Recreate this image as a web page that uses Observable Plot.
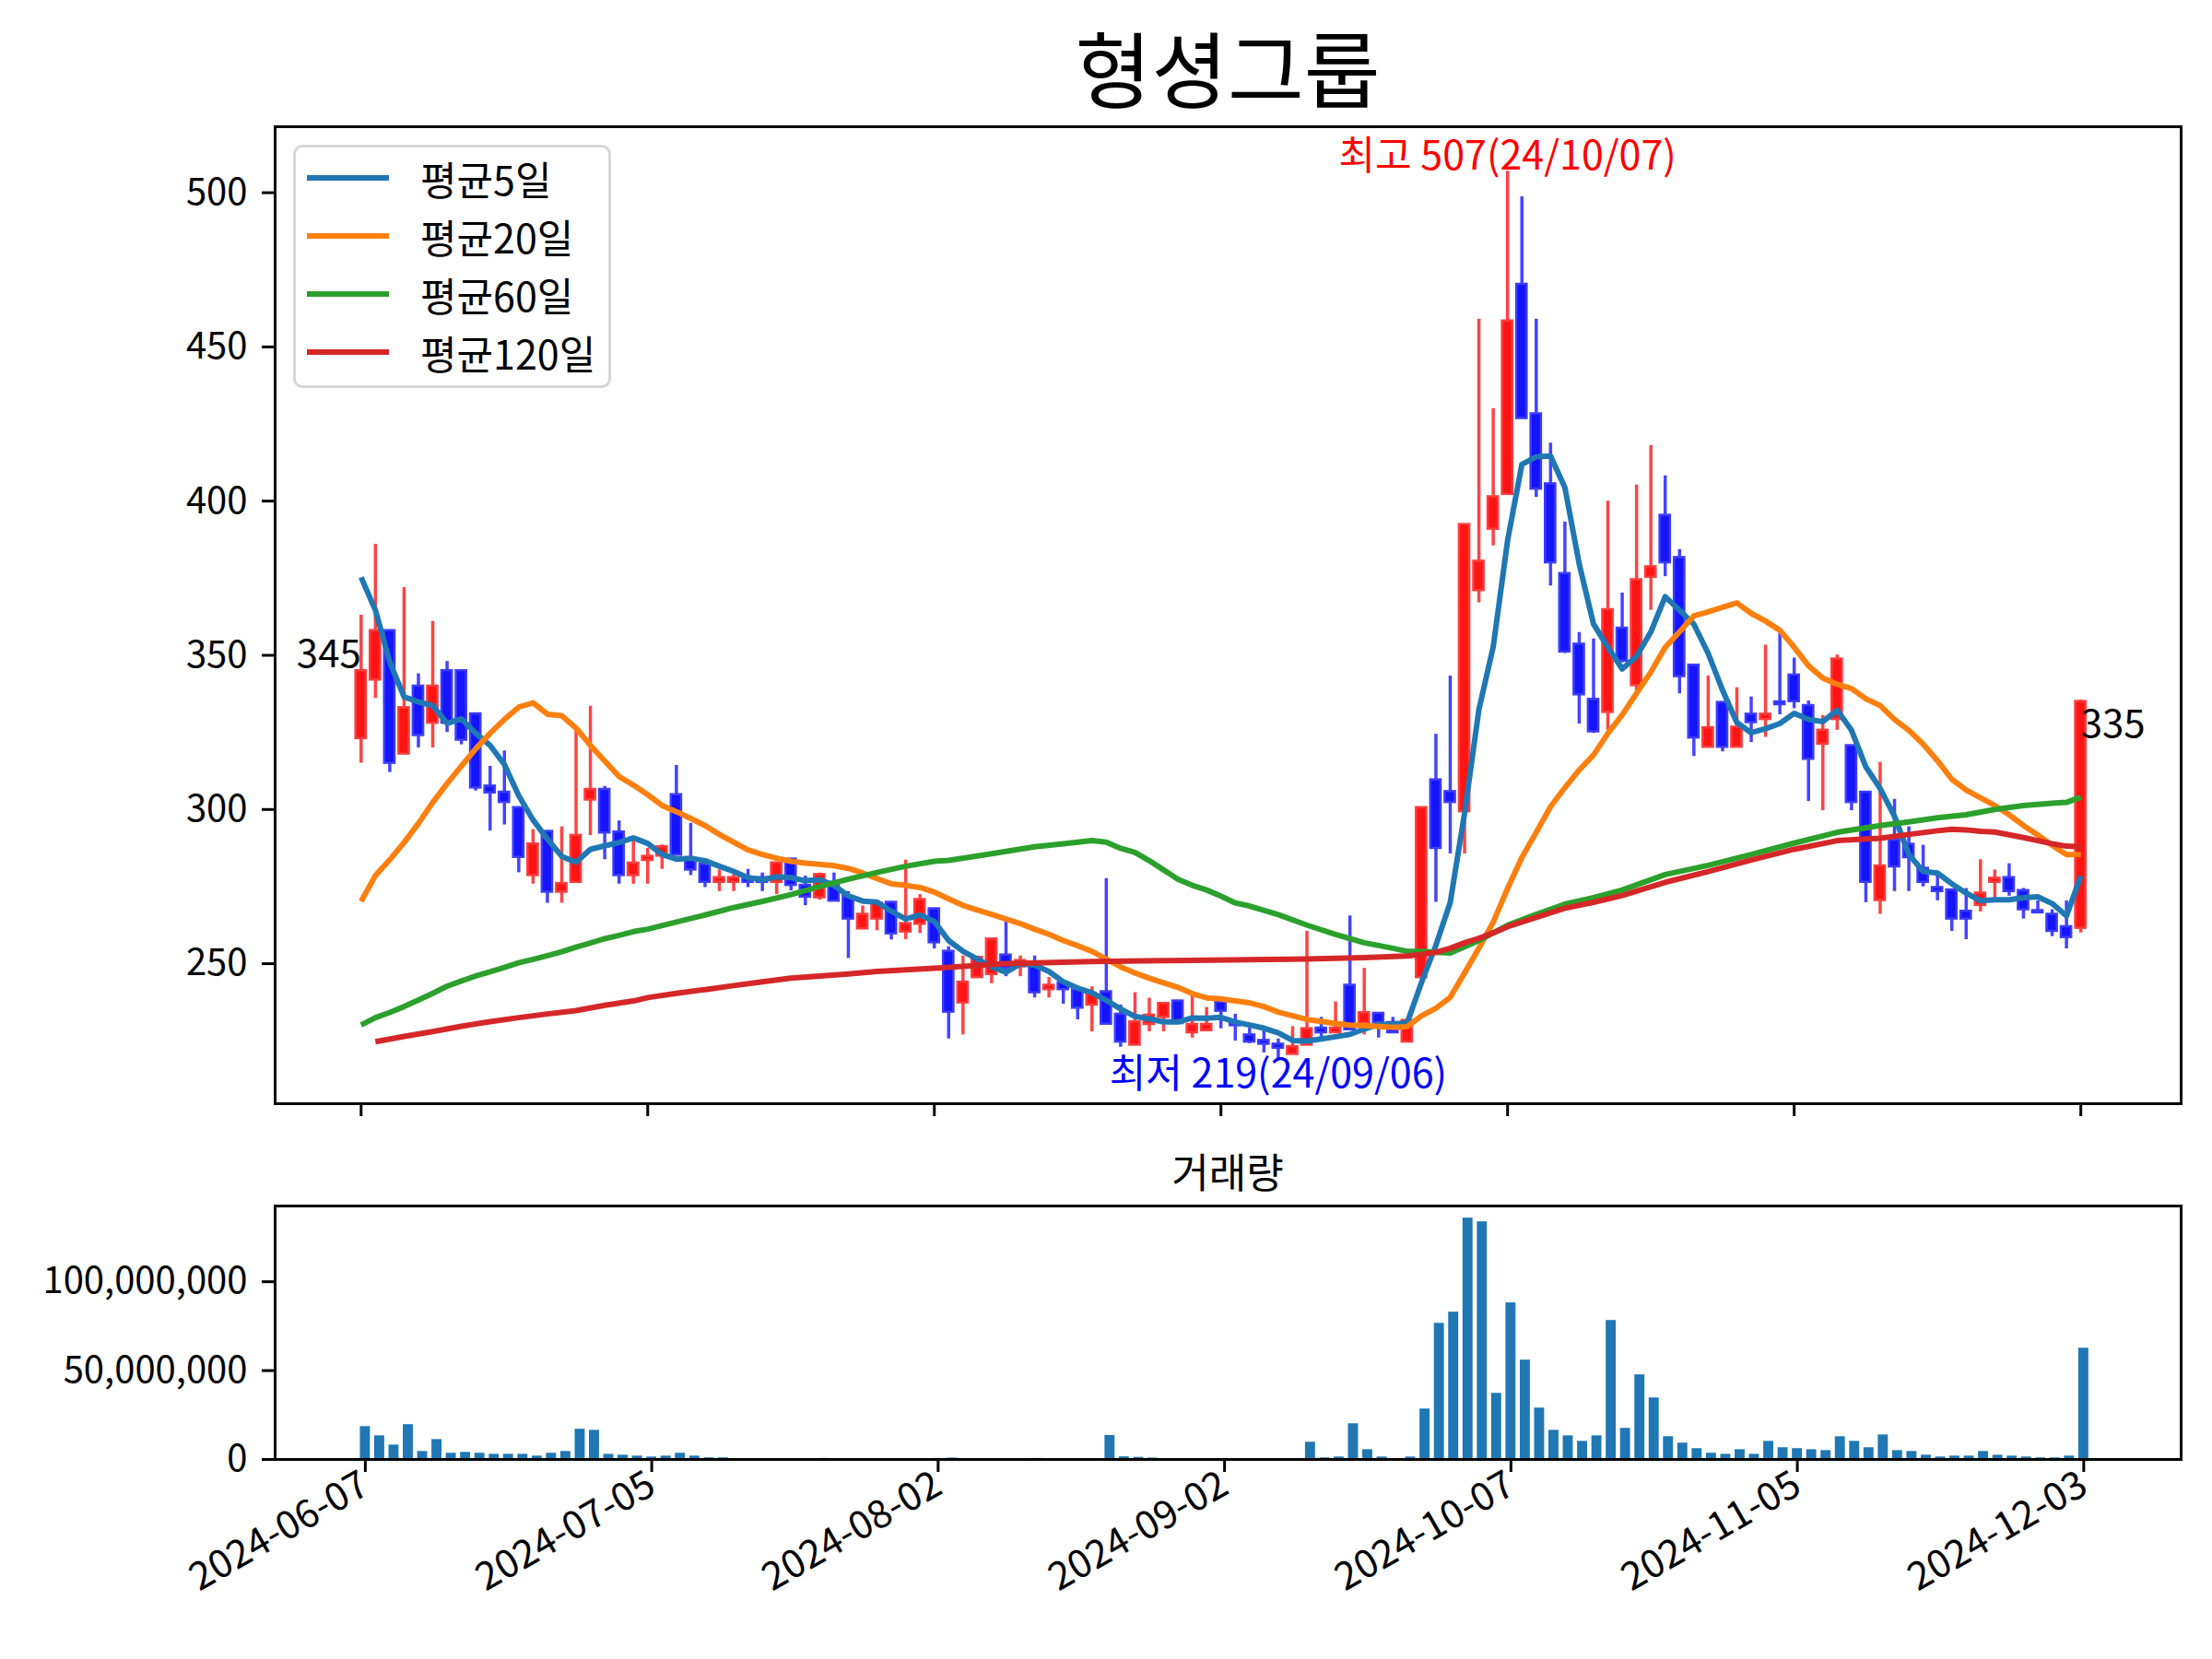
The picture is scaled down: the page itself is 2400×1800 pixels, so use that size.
<!DOCTYPE html>
<html>
<head>
<meta charset="utf-8">
<script src="https://cdn.jsdelivr.net/npm/d3@7"></script>
<script src="https://cdn.jsdelivr.net/npm/@observablehq/plot@0.6"></script>
<style>
  html, body { margin: 0; padding: 0; background: #fff; }
  #wrap { position: relative; width: 2400px; height: 1800px; background: #fff; overflow: hidden;
          font-family: 'Noto Sans CJK KR', 'Noto Sans', sans-serif; color: #000; }
  .abs { position: absolute; }
  #title { left: 1332px; top: 22px; transform: translateX(-50%); font-size: 90px; line-height: 1.1; white-space: nowrap; }
  #vtitle { left: 1332px; top: 1244px; transform: translateX(-50%); font-size: 44px; line-height: 1.2; white-space: nowrap; }
  #legend { left: 318px; top: 157px; width: 339px; height: 258px; border: 3px solid #d6d6d6; border-radius: 10px;
            background: rgba(255,255,255,0.85); }
  .lrow { position: absolute; left: 0; height: 50px; display: flex; align-items: center; font-size: 43px; }
  .lrow .sw { width: 89px; height: 6px; margin-left: 12px; margin-right: 34px; }
</style>
</head>
<body>
<div id="wrap">
  <div id="main" class="abs" style="left:0;top:0"></div>
  <div id="vol" class="abs" style="left:0;top:1230px"></div>
  <div id="title" class="abs">형셩그룹</div>
  <div id="vtitle" class="abs">거래량</div>
  <div id="legend" class="abs"></div>
</div>
<script>
// ---- data (trading-day index 0..120) ----
const tickIdx = [0, 20, 40, 60, 80, 100, 120];
const tickLabels = ["2024-06-07", "2024-07-05", "2024-08-02", "2024-09-02", "2024-10-07", "2024-11-05", "2024-12-03"];
const priceTicks = [250, 300, 350, 400, 450, 500];
const volumeTicksM = [0, 50, 100];

const open = [323,342,358,318,340,328,345,345,331,307.6,305.6,300.6,278.6,292.9,273.2,276.4,303.1,306.5,292.7,278.6,
283.5,284.9,304.8,283.6,282.2,276.4,276.4,277.9,277.9,276.4,283.9,275.4,271.4,276.4,271.8,261.3,264.5,269.9,260.3,262.8,
267.8,254,237.3,245.5,246.5,252.8,249,249,241.6,243.8,241.6,236.6,240.9,233.6,223.6,230.3,232.6,237.9,227.6,228.3,
237.6,230.6,226.9,225.1,223.9,220.6,223.6,229.1,227.6,243,230.6,233.9,230.9,224.6,245.5,309.6,305.8,299.3,371,390.9,
402.2,470.3,428.3,405.6,376.5,353.6,335.7,331.5,358.8,340.2,375.3,395.4,381.7,346.8,320.2,334.7,320.2,330.9,329.2,334.9,
343.6,333.7,321.2,329.2,320.7,305.6,270.5,290.1,288.7,280.9,274.7,273.9,267,268.9,276.4,277.9,273.7,267.2,266,262,
261.5];
const high = [363,386,358,372,344,361,348,345,331,314,319,300.6,293.5,292.9,294.4,325.6,333.5,307.5,296.3,291.2,
287.4,288.5,314.3,295.5,282.2,280.4,278.9,280.6,279.4,282.7,283.9,278.4,279.4,279.4,273.4,268.7,269.6,269.9,283.6,272.4,
267.8,255.5,252.5,252.5,258,263.7,252.5,252.5,245.5,243.8,241.6,242.5,277.6,236.6,240.6,238.8,237.1,237.9,239.6,235.8,
237.6,233.6,229.1,229.6,225.6,229.6,260.5,232.6,237.6,265.5,248.5,233.9,232.6,231.6,300.6,324.4,343.3,392.4,459,430,
507,498.7,459,418.8,393.2,357.4,355.3,400,370.2,405.2,418,408.2,384.3,346.8,343.3,334.7,339.5,336.5,353.3,357.1,
349.1,335.2,330.5,350.1,320.7,305.6,315.3,303.3,294.4,288.4,278.9,273.9,274.4,283.7,280.4,282.4,274.4,270.4,267.5,270.4,
335.5];
const low = [315,336,312,318,320,320,325,321,306,293,295,279.5,275.8,269.6,269.6,276.4,291.6,283.7,275.8,275.8,
275.8,280.6,285,278.6,274.7,273.4,273.4,274.7,273.4,272.4,273.6,268.8,270.6,270.3,251.7,261.3,260.7,257.7,257.8,259.8,
254.8,225.6,226.9,245.5,243.5,245.8,245.8,238.9,238.9,236.9,231.8,227.9,230.4,222.9,223.6,227.9,227.9,230.6,225.9,228.3,
228.9,224.9,224.1,221.1,219,220.6,223.6,226.1,227.6,228.6,226.9,225.9,227.6,224.6,245.5,269.9,285.6,285.6,367,385.5,
402,426.8,401.2,372.5,350.6,327.7,324.7,325.7,347.6,336.9,364.6,375.5,337.5,317.2,320.2,318.7,320.2,321.7,323.4,330.7,
332.7,302.6,299.6,325.7,299.6,269.8,266,273.4,273.4,274.9,270.4,260.5,257.8,266.8,271.4,271.9,264.5,266.2,258.8,254.8,
260];
const close = [345,358,315,333,324,340,328,322.5,307,305.4,302.3,284.5,288.8,273.2,276,291.6,306.5,292.4,278.6,282.6,
284.8,287.9,285.2,280.4,276.4,277.9,277.9,276.4,276.4,282.7,275.4,271.6,278.9,270.3,264.5,266,269.6,259.7,263,270.8,
256.8,234.3,244,252,258,248.5,251,240.6,243,241.6,235.6,240.1,230.4,224.6,231.1,233.3,237.1,230.6,230.3,230.3,
234.6,229.9,224.6,223.9,222.6,223.1,228.9,227.6,229.1,228.6,234.1,230.9,227.6,231.6,300.6,287.4,302.3,392.4,380.5,401.4,
458.4,426.8,403.9,380,351.1,337.2,325.2,364.8,348.1,374.5,378.7,380,343.1,323.2,326.5,320.2,326.7,328.2,330.9,334,
335,316.3,325.7,348.8,302.3,276.4,281.7,281.4,284.4,276.4,273.4,264.5,264.5,272.9,277.7,273.4,267.5,266.5,260.5,258.5,
335];

const ma5 = [375.3,364.6,347.8,336.5,334.9,333.7,327.9,329.4,324.7,320.8,314.6,304.5,296.6,290.4,284.8,282.9,287.1,288.2,289.3,290.8,
289.0,285.4,283.9,284.2,283.4,281.6,279.9,277.9,277.2,278.2,277.9,276.9,277.2,275.4,272.0,270.3,270.0,267.0,264.5,265.8,
263.7,257.5,254.0,251.5,249.0,247.2,250.0,249.5,247.5,244.1,242.1,240.6,238.1,235.3,232.9,232.1,231.1,231.1,232.4,232.3,
232.6,231.1,230.1,229.1,227.6,225.1,224.9,225.6,226.3,227.1,228.8,230.3,230.3,230.9,244.0,256.0,269.9,298.8,332.4,352.8,
387.2,411.9,414.4,414.6,404.4,379.6,360.1,352.6,345.6,349.6,357.6,369.0,364.6,360.1,350.6,338.7,328.2,324.9,326.2,327.9,
331.2,329.2,328.5,332.2,325.7,313.8,306.8,297.8,285.4,279.9,279.4,275.9,272.9,270.4,270.7,270.7,271.4,271.7,269.5,265.5,
278.4];
const ma20 = [270.2,278.6,283.7,289.3,295.5,302.3,308.4,314.1,319.7,324.7,329.2,333.2,334.6,330.9,330.4,326.4,320.8,315.7,310.7,307.9,
304.8,301.3,299.3,297.1,294.8,291.9,289.4,286.9,285.4,284.2,283.2,282.6,282.2,281.8,280.9,279.4,277.6,275.9,275.4,274.7,
273.2,271.0,268.9,267.4,266.0,264.5,263.0,261.2,259.5,257.5,255.8,254.0,251.5,249.0,247.0,245.3,243.8,242.3,240.3,238.9,
238.6,237.9,237.3,236.1,234.3,233.1,231.9,231.3,230.6,230.1,229.9,229.6,229.3,229.6,233.1,235.6,239.1,247.0,255.0,263.5,
274.4,284.5,292.6,300.9,307.1,312.8,317.7,324.7,330.7,337.7,344.6,352.6,357.6,362.8,364.1,365.6,367.0,363.6,361.1,358.1,
352.6,346.6,342.6,340.6,339.2,335.9,333.7,329.2,325.7,321.2,315.8,309.8,306.3,303.8,301.3,298.3,294.8,291.7,288.4,285.4,
285.4];
// 60-day and 120-day averages, read where legible (null = not read)
const ma60 = [230.1,232.5,234.2,236.1,238.2,240.4,242.7,244.4,246.0,247.4,248.8,250.3,251.4,252.6,253.9,255.4,256.7,258.1,259.2,260.4,
261.2,null,263.5,null,265.8,null,268.2,null,270.2,null,272.4,null,275.0,null,277.4,null,279.6,null,281.6,null,
283.2,283.5,null,284.9,null,286.4,null,287.9,null,288.9,null,289.9,289.4,287.4,286.1,283.4,280.4,277.4,275.4,273.9,
271.9,269.7,268.7,null,265.9,null,262.5,null,259.5,null,256.8,null,255.0,254.0,254.0,253.7,253.5,255.5,257.5,260.0,
262.5,null,266.0,null,269.3,null,271.4,null,273.9,null,null,278.9,null,null,281.9,null,null,285.4,null,null,
289.1,null,null,292.6,null,null,294.8,null,296.0,null,297.3,null,298.3,null,300.0,null,301.3,null,302.0,302.3,
304.0];
const ma120 = [null,224.7,null,226.4,null,228.0,null,229.7,null,231.2,null,232.5,null,233.7,null,234.8,null,236.5,null,237.9,
239.0,null,240.4,null,241.6,null,242.9,null,244.1,null,245.3,null,246.0,null,246.7,null,247.5,null,248.0,null,
248.5,248.8,null,null,null,250.0,null,null,null,null,null,250.7,null,null,null,null,251.0,null,null,null,
null,null,251.3,null,null,null,251.5,null,null,null,252.0,null,null,252.5,253.0,253.7,255.0,256.8,258.2,260.0,
262.0,null,265.0,null,268.0,null,269.9,null,272.1,null,null,276.4,null,null,279.9,null,null,283.6,null,null,
287.1,null,null,289.9,null,null,290.7,null,291.9,null,293.1,293.6,293.4,292.9,292.7,null,290.9,null,288.9,288.1,
287.9];
// volume in millions of shares
const volumeM = [18.5,13.3,8.1,19.6,4.5,11.2,3.5,4.0,3.5,2.9,2.9,2.9,1.9,3.5,4.5,17.0,16.4,2.9,2.4,1.9,
1.4,1.9,3.5,1.9,0.9,0.9,0.5,0.4,0.3,0.2,0.2,0.2,0.6,0.2,0.3,0.2,0.2,0.2,0.5,0.3,
0.6,0.8,0.3,0.2,0.2,0.3,0.2,0.6,0.2,0.2,0.2,0.3,13.5,1.5,1.2,0.8,0.2,0.2,0.2,0.2,
0.2,0.2,0.2,0.2,0.2,0.3,9.7,0.9,1.4,20.1,5.5,1.4,0.3,1.4,28.4,76.6,82.9,135.8,133.7,37.2,
88.1,55.9,28.9,16.4,13.3,10.2,13.3,78.2,17.5,47.6,34.6,12.8,9.2,6.1,3.5,2.9,5.5,2.9,10.2,6.6,
6.1,5.5,5.0,12.8,10.2,6.6,13.8,5.0,4.5,2.4,1.4,1.9,1.9,4.5,2.4,1.9,1.4,0.9,0.9,1.9,
62.6];

const seriesNames = ["평균5일", "평균20일", "평균60일", "평균120일"];
const seriesColors = ["#1f77b4", "#ff7f0e", "#2ca02c", "#d62728"];
const annotations = ["최고 507(24/10/07)", "최저 219(24/09/06)"];

// ---- tables built from the arrays ----
const rows = open.map((o, i) => ({i, open: o, high: high[i], low: low[i], close: close[i], up: close[i] >= o}));
const maTables = [ma5, ma20, ma60, ma120].map((arr, k) =>
  arr.map((v, i) => ({i, v, s: seriesNames[k]})).filter(d => d.v != null));
const volRows = volumeM.map((v, i) => ({i, v}));
const hiVal = d3.max(high), hiIdx = high.indexOf(hiVal);
const loVal = d3.min(low), loIdx = low.indexOf(loVal);
const first = rows[0], last = rows[rows.length - 1];

const FONT = "'Noto Sans CJK KR', 'Noto Sans', sans-serif";
const upBody = "#ff1414", upEdge = "#ff3c3c", upWick = "#ff4444";
const dnBody = "#1414ff", dnEdge = "#3c3cff", dnWick = "#4444ff";

const main = Plot.plot({
  width: 2400, height: 1290,
  marginLeft: 298, marginRight: 34, marginTop: 137, marginBottom: 93,
  x: {domain: [-6, 127], axis: null},
  y: {domain: [204.6, 521.4], axis: null},
  style: {background: "transparent", color: "#000", fontFamily: FONT, fontSize: "40px", overflow: "visible"},
  marks: [
    Plot.ruleX(rows, {x: "i", y1: "low", y2: "high", stroke: d => d.up ? upWick : dnWick, strokeWidth: 3.5}),
    Plot.rect(rows, {x1: d => d.i - 0.36, x2: d => d.i + 0.36, y1: "open", y2: "close",
      fill: d => d.up ? upBody : dnBody, stroke: d => d.up ? upEdge : dnEdge, strokeWidth: 2.5}),
    ...maTables.map((t, k) => Plot.line(t, {x: "i", y: "v", stroke: seriesColors[k], strokeWidth: 6,
      strokeLinejoin: "round", strokeLinecap: "butt"})),
    Plot.frame({stroke: "#000", strokeWidth: 3}),
    Plot.axisY({ticks: priceTicks, label: null, tickSize: 14, tickPadding: 16, strokeWidth: 3, fontSize: 40,
      tickFormat: d => String(d)}),
    Plot.axisX({ticks: tickIdx, label: null, tickSize: 14, strokeWidth: 3, tickFormat: () => ""}),
    Plot.text([{x: hiIdx, y: hiVal}], {x: "x", y: "y", text: () => annotations[0], fill: "#ff0000",
      fontSize: 43, lineAnchor: "bottom", dy: -2}),
    Plot.text([{x: loIdx, y: loVal}], {x: "x", y: "y", text: () => annotations[1], fill: "#0000ff",
      fontSize: 43, lineAnchor: "top", dy: 0}),
    Plot.text([first], {x: "i", y: "close", text: d => String(Math.round(d.close)), fill: "#000",
      fontSize: 42, textAnchor: "end", lineAnchor: "bottom", dy: -4}),
    Plot.text([last], {x: "i", y: "close", text: d => String(Math.round(d.close)), fill: "#000",
      fontSize: 42, textAnchor: "start", lineAnchor: "top", dy: 9})
  ]
});
document.getElementById("main").appendChild(main);

const vol = Plot.plot({
  width: 2400, height: 570,
  marginLeft: 298, marginRight: 34, marginTop: 78, marginBottom: 217,
  x: {domain: [-6.3, 126.8], axis: null},
  y: {domain: [0, 142.6], axis: null},
  style: {background: "transparent", color: "#000", fontFamily: FONT, fontSize: "40px", overflow: "visible"},
  marks: [
    Plot.rect(volRows, {x1: d => d.i - 0.35, x2: d => d.i + 0.35, y1: 0, y2: "v", fill: "#1f77b4"}),
    Plot.frame({stroke: "#000", strokeWidth: 3}),
    Plot.axisY({ticks: volumeTicksM, label: null, tickSize: 14, tickPadding: 16, strokeWidth: 3, fontSize: 40,
      tickFormat: d => d3.format(",")(d * 1e6)}),
    Plot.axisX({ticks: tickIdx, label: null, tickSize: 14, tickPadding: 10, strokeWidth: 3, fontSize: 42,
      tickRotate: -30, textAnchor: "end", tickFormat: d => tickLabels[tickIdx.indexOf(d)]})
  ]
});
document.getElementById("vol").appendChild(vol);

// legend (HTML overlay)
const leg = document.getElementById("legend");
seriesNames.forEach((name, k) => {
  const row = document.createElement("div");
  row.className = "lrow";
  row.style.top = (8 + 63 * k) + "px";
  const sw = document.createElement("div");
  sw.className = "sw";
  sw.style.background = seriesColors[k];
  const tx = document.createElement("span");
  tx.textContent = name;
  row.appendChild(sw); row.appendChild(tx);
  leg.appendChild(row);
});
</script>
</body>
</html>
